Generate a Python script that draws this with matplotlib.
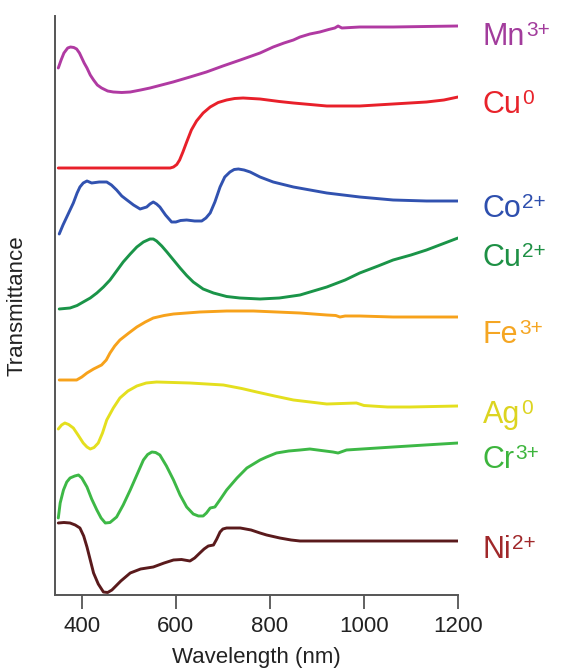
import matplotlib
matplotlib.use("Agg")
import matplotlib.pyplot as plt

plt.rcParams['font.family'] = ['Liberation Sans', 'DejaVu Sans']

# ---- data (wavelength in nm, transmittance in arbitrary stacked units) ----
mn_x = [350, 356, 362, 370, 376, 383, 389, 395, 400, 405, 411, 418, 425, 433, 442, 455, 467, 485, 503, 525, 545,
        594, 630, 665, 700, 737, 779, 807, 830, 850, 864, 885, 906, 925, 938, 945, 953, 991, 1062, 1130, 1200]
mn_y = [527, 535, 542, 547, 548, 547.5, 546, 542, 537, 532, 527, 520, 515, 510, 507, 504, 503, 502.5, 503, 505, 507,
        513, 518, 523, 529, 535, 542, 548, 552, 555, 558, 561, 563, 565.5, 567, 569, 567, 568, 568, 568.5, 569]

cu0_x = [350, 588, 595, 602, 608, 615, 623, 633, 644, 658, 673, 690, 708, 725, 743, 779, 820, 850, 921, 991, 1062, 1133, 1170, 1200]
cu0_y = [427, 427, 428, 430.5, 435, 443, 453, 465, 474, 482, 488, 492.5, 495, 496.5, 497, 496, 493.5, 492, 489, 489, 491, 493, 495, 498]

co_x = [352, 360, 368, 375, 382, 390, 396, 403, 411, 416, 421, 437, 453, 463, 474, 485, 496, 510, 524, 531, 538, 545, 552,
        559, 566, 578, 591, 600, 610, 623, 640, 655, 664, 673, 683, 694, 704, 715, 724, 733, 745, 758, 779, 807, 850,
        921, 991, 1062, 1133, 1200]
co_y = [361, 370, 378, 385, 392, 402, 408, 412, 414, 413, 412, 413, 413, 410, 405, 399, 395, 390, 386, 387, 388, 391, 393,
        391, 388, 380, 373, 373, 374.5, 375, 374, 374, 377, 382, 393, 408, 418, 423, 425.5, 426, 425, 423, 418, 413, 408,
        402, 398, 395, 394, 394]

cu2_x = [352, 375, 390, 403, 418, 432, 446, 460, 474, 488, 503, 517, 531, 545, 552, 559, 570, 581, 595, 609, 623, 637,
         658, 680, 708, 736, 779, 820, 864, 921, 960, 991, 1030, 1062, 1100, 1133, 1200]
cu2_y = [286, 287, 289.5, 293, 297, 302, 308, 315, 324, 333, 341, 348, 353, 356, 356, 354, 349, 343, 335, 327, 319.5, 313,
         306, 302, 298.5, 297, 296, 297, 300, 308, 315, 322, 329, 335, 340, 345, 357]

fe_x = [352, 375, 389, 400, 411, 425, 442, 452, 460, 470, 481, 500, 517, 535, 552, 575, 595, 651, 708, 765, 864, 921,
        940, 949, 960, 991, 1062, 1200]
fe_y = [215, 215, 215, 218, 222, 226, 230, 235, 242, 249, 255, 262, 268, 273, 277, 279.5, 281, 283, 284, 284, 282, 280,
        279.5, 278, 279, 279, 278, 278]

ag_x = [350, 357, 364, 372, 382, 392, 403, 411, 418, 426, 435, 444, 453, 467, 481, 498, 517, 537, 559, 630, 701, 740,
        772, 810, 850, 921, 984, 1000, 1050, 1098, 1200]
ag_y = [166, 170, 172, 170.5, 167, 160, 152, 148, 146, 147.5, 152, 162, 175, 187, 197, 204, 209, 212, 213, 212, 210, 206.5,
        203, 199, 195, 191, 192, 189.5, 188, 188, 189]

cr_x = [350, 354, 361, 368, 375, 385, 393, 400, 411, 421, 432, 441, 450, 460, 474, 488, 503, 517, 531, 540, 549, 557,
        566, 580, 595, 609, 623, 637, 648, 658, 665, 673, 683, 695, 708, 730, 751, 779, 793, 814, 840, 864, 885, 934,
        945, 963, 1062, 1130, 1200]
cr_y = [77, 92, 105, 113, 117, 119, 120, 117, 108, 96, 85, 77, 72, 72.5, 78, 90, 105, 120, 135, 140.5, 143, 142.5,
        140, 129, 115, 100, 88, 81, 79, 79, 82, 87, 88, 96, 105, 117, 127, 135, 138, 142, 144, 145, 146, 143,
        142, 145, 148, 150, 152]

ni_x = [350, 362, 375, 386, 396, 404, 411, 418, 425, 435, 446, 455, 464, 483, 503, 525, 552, 575, 595, 612, 630, 640,
        651, 660, 669, 680, 687, 694, 700, 708, 737, 760, 779, 793, 821, 845, 864, 1200]
ni_y = [72, 72.5, 72, 70, 67, 59, 48, 35, 22, 11, 3, 2.5, 5, 14, 22, 26, 28, 32, 35, 35.5, 34, 37,
        42, 46, 49, 50, 56, 63, 66, 67, 67, 65, 62, 60, 57, 55, 54, 54]

names = ['Mn', 'Cu', 'Co', 'Cu', 'Fe', 'Ag', 'Cr', 'Ni']
charges = ['3+', '0', '2+', '2+', '3+', '0', '3+', '2+']
label_base = [550, 482, 378, 329, 252, 172, 127, 37]

series_x = [mn_x, cu0_x, co_x, cu2_x, fe_x, ag_x, cr_x, ni_x]
series_y = [mn_y, cu0_y, co_y, cu2_y, fe_y, ag_y, cr_y, ni_y]
line_colors = ['#B03AA2', '#E8202A', '#3152B0', '#1A9448', '#F7A21B', '#E4DF1E', '#3DB846', '#5A1A1C']
text_colors = ['#A23C9C', '#E8232B', '#2E4FAE', '#1E9045', '#F5A623', '#DCD420', '#3DB53D', '#A0282A']

# ---- figure ----
fig = plt.figure(figsize=(5.64, 6.68), dpi=100)
ax = fig.add_axes([55 / 564, 73 / 668, 403 / 564, 579 / 668])

for xs, ys, c in zip(series_x, series_y, line_colors):
    ax.plot(xs, ys, color=c, lw=2.1, solid_joinstyle='round', solid_capstyle='round')

ax.set_xlim(343, 1200)
ax.set_ylim(0, 579)
ax.set_xticks([400, 600, 800, 1000, 1200])
ax.set_yticks([])
for s in ['top', 'right']:
    ax.spines[s].set_visible(False)
for s in ['left', 'bottom']:
    ax.spines[s].set_color('#555555')
    ax.spines[s].set_linewidth(1.4)
ax.tick_params(axis='x', direction='out', length=10, width=1.3, color='#555555',
               labelsize=16, labelcolor='#222222', pad=5)
ax.set_xlabel('Wavelength (nm)', fontsize=16, color='#222222', labelpad=7)
ax.set_ylabel('Transmittance', fontsize=16, color='#222222', labelpad=20)

fig.canvas.draw()
renderer = fig.canvas.get_renderer()
for name, ch, yb, tc in zip(names, charges, label_base, text_colors):
    t = ax.text(1253, yb, name, color=tc, fontsize=22, va='baseline', ha='left', clip_on=False)
    bb = t.get_window_extent(renderer=renderer)
    xd, _ = ax.transData.inverted().transform((bb.x1 + 0.5, bb.y0))
    ax.text(xd, yb + 9, ch, color=tc, fontsize=15, va='baseline', ha='left', clip_on=False)

fig.savefig('out.png', dpi=100)
